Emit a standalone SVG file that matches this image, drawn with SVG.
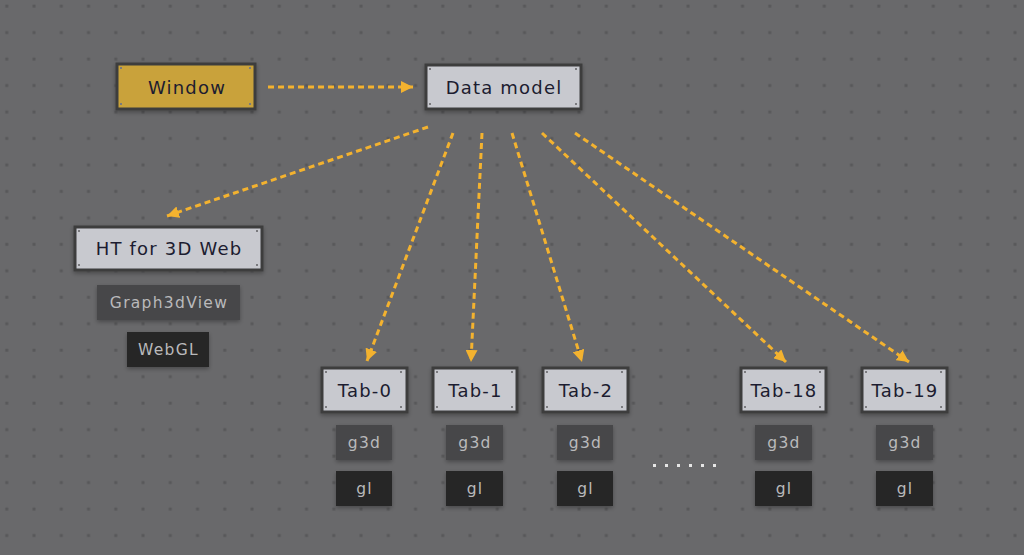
<svg xmlns="http://www.w3.org/2000/svg" width="1024" height="555" viewBox="0 0 1024 555">
<defs>
<pattern id="grid" x="0" y="0" width="27.25" height="26.47" patternUnits="userSpaceOnUse">
<rect x="5.3" y="4.6" width="3" height="3" fill="#58585a"/>
</pattern>
<marker id="arr" viewBox="0 0 10 10" refX="10" refY="5" markerWidth="4" markerHeight="4" markerUnits="strokeWidth" orient="auto">
<path d="M0,0 L10,5 L0,10 z" fill="#f3b22f"/>
</marker>
<filter id="sh" x="-20%" y="-20%" width="140%" height="160%">
<feDropShadow dx="0" dy="2" stdDeviation="2" flood-color="#000" flood-opacity="0.3"/>
</filter>
</defs>
<style>
.main{stroke:#3c3c3e;stroke-width:3;filter:url(#sh)}
.light{fill:#c8c9cf}
.gold{fill:#c9a23b}
.sub{fill:#474748;filter:url(#sh)}
.dark{fill:#252526;filter:url(#sh)}
.screw{fill:#7a7a7e}
.t{font-family:"DejaVu Sans","Liberation Sans",sans-serif;font-size:18px;fill:#1c1c30;text-anchor:middle;dominant-baseline:central;letter-spacing:1.2px}
.ts{font-family:"DejaVu Sans","Liberation Sans",sans-serif;font-size:15.5px;fill:#b9b9bb;text-anchor:middle;dominant-baseline:central;letter-spacing:1.3px}
.c{fill:none;stroke:#f3b22f;stroke-width:3;stroke-dasharray:6 4;marker-end:url(#arr)}
</style>
<rect width="1024" height="555" fill="#69696b"/>
<rect width="1024" height="555" fill="url(#grid)"/>

<g id="connectors">
<line class="c" x1="268" y1="87" x2="413" y2="87"/>
<line class="c" x1="428" y1="127" x2="167" y2="216"/>
<line class="c" x1="453" y1="133" x2="367" y2="361"/>
<line class="c" x1="482" y1="133" x2="471" y2="362"/>
<line class="c" x1="512" y1="133" x2="582" y2="362"/>
<line class="c" x1="542" y1="133" x2="786" y2="362"/>
<line class="c" x1="575" y1="133" x2="909" y2="362"/>
</g>

<g id="window">
<rect class="main gold" x="117" y="64" width="138" height="45"/>
<rect class="screw" x="120" y="67" width="2" height="2"/><rect class="screw" x="249" y="67" width="2" height="2"/>
<rect class="screw" x="120" y="103" width="2" height="2"/><rect class="screw" x="249" y="103" width="2" height="2"/>
<text class="t" x="187" y="87">Window</text>
</g>

<g id="datamodel">
<rect class="main light" x="426" y="65" width="155" height="44"/>
<rect class="screw" x="429" y="68" width="2" height="2"/><rect class="screw" x="575" y="68" width="2" height="2"/>
<rect class="screw" x="429" y="103" width="2" height="2"/><rect class="screw" x="575" y="103" width="2" height="2"/>
<text class="t" x="504" y="87">Data model</text>
</g>

<g id="ht">
<rect class="main light" x="75" y="227" width="187" height="43"/>
<rect class="screw" x="78" y="230" width="2" height="2"/><rect class="screw" x="256" y="230" width="2" height="2"/>
<rect class="screw" x="78" y="264" width="2" height="2"/><rect class="screw" x="256" y="264" width="2" height="2"/>
<text class="t" x="169" y="248.5">HT for 3D Web</text>
</g>
<g id="graph3dview">
<rect class="sub" x="97" y="285" width="143" height="35"/>
<text class="ts" x="169" y="302.5">Graph3dView</text>
</g>
<g id="webgl">
<rect class="dark" x="127" y="332" width="82" height="35"/>
<text class="ts" x="168.5" y="349.5">WebGL</text>
</g>

<g id="tab0">
<rect class="main light" x="322" y="368" width="85" height="44"/>
<rect class="screw" x="325" y="371" width="2" height="2"/><rect class="screw" x="400" y="371" width="2" height="2"/>
<rect class="screw" x="325" y="406" width="2" height="2"/><rect class="screw" x="400" y="406" width="2" height="2"/>
<text class="t" x="365" y="390">Tab-0</text>
</g>
<g id="tab0-g3d"><rect class="sub" x="336" y="425" width="56" height="35"/><text class="ts" x="364.5" y="442.5">g3d</text></g>
<g id="tab0-gl"><rect class="dark" x="336" y="471" width="56" height="35"/><text class="ts" x="364.5" y="488.5">gl</text></g>

<g id="tab1">
<rect class="main light" x="433" y="368" width="84" height="44"/>
<rect class="screw" x="436" y="371" width="2" height="2"/><rect class="screw" x="511" y="371" width="2" height="2"/>
<rect class="screw" x="436" y="406" width="2" height="2"/><rect class="screw" x="511" y="406" width="2" height="2"/>
<text class="t" x="475.5" y="390">Tab-1</text>
</g>
<g id="tab1-g3d"><rect class="sub" x="446" y="425" width="57" height="35"/><text class="ts" x="475" y="442.5">g3d</text></g>
<g id="tab1-gl"><rect class="dark" x="446" y="471" width="57" height="35"/><text class="ts" x="475" y="488.5">gl</text></g>

<g id="tab2">
<rect class="main light" x="543" y="368" width="85" height="44"/>
<rect class="screw" x="546" y="371" width="2" height="2"/><rect class="screw" x="621" y="371" width="2" height="2"/>
<rect class="screw" x="546" y="406" width="2" height="2"/><rect class="screw" x="621" y="406" width="2" height="2"/>
<text class="t" x="586" y="390">Tab-2</text>
</g>
<g id="tab2-g3d"><rect class="sub" x="557" y="425" width="56" height="35"/><text class="ts" x="585.5" y="442.5">g3d</text></g>
<g id="tab2-gl"><rect class="dark" x="557" y="471" width="56" height="35"/><text class="ts" x="585.5" y="488.5">gl</text></g>

<g id="ellipsis" fill="#e6e6e6">
<rect x="653" y="464" width="3" height="3"/><rect x="665" y="464" width="3" height="3"/><rect x="677" y="464" width="3" height="3"/>
<rect x="689" y="464" width="3" height="3"/><rect x="701" y="464" width="3" height="3"/><rect x="713" y="464" width="3" height="3"/>
</g>

<g id="tab18">
<rect class="main light" x="741" y="368" width="85" height="44"/>
<rect class="screw" x="744" y="371" width="2" height="2"/><rect class="screw" x="819" y="371" width="2" height="2"/>
<rect class="screw" x="744" y="406" width="2" height="2"/><rect class="screw" x="819" y="406" width="2" height="2"/>
<text class="t" x="784" y="390">Tab-18</text>
</g>
<g id="tab18-g3d"><rect class="sub" x="755" y="425" width="57" height="35"/><text class="ts" x="784" y="442.5">g3d</text></g>
<g id="tab18-gl"><rect class="dark" x="755" y="471" width="57" height="35"/><text class="ts" x="784" y="488.5">gl</text></g>

<g id="tab19">
<rect class="main light" x="862" y="368" width="85" height="44"/>
<rect class="screw" x="865" y="371" width="2" height="2"/><rect class="screw" x="940" y="371" width="2" height="2"/>
<rect class="screw" x="865" y="406" width="2" height="2"/><rect class="screw" x="940" y="406" width="2" height="2"/>
<text class="t" x="905" y="390">Tab-19</text>
</g>
<g id="tab19-g3d"><rect class="sub" x="876" y="425" width="57" height="35"/><text class="ts" x="905" y="442.5">g3d</text></g>
<g id="tab19-gl"><rect class="dark" x="876" y="471" width="57" height="35"/><text class="ts" x="905" y="488.5">gl</text></g>
</svg>
